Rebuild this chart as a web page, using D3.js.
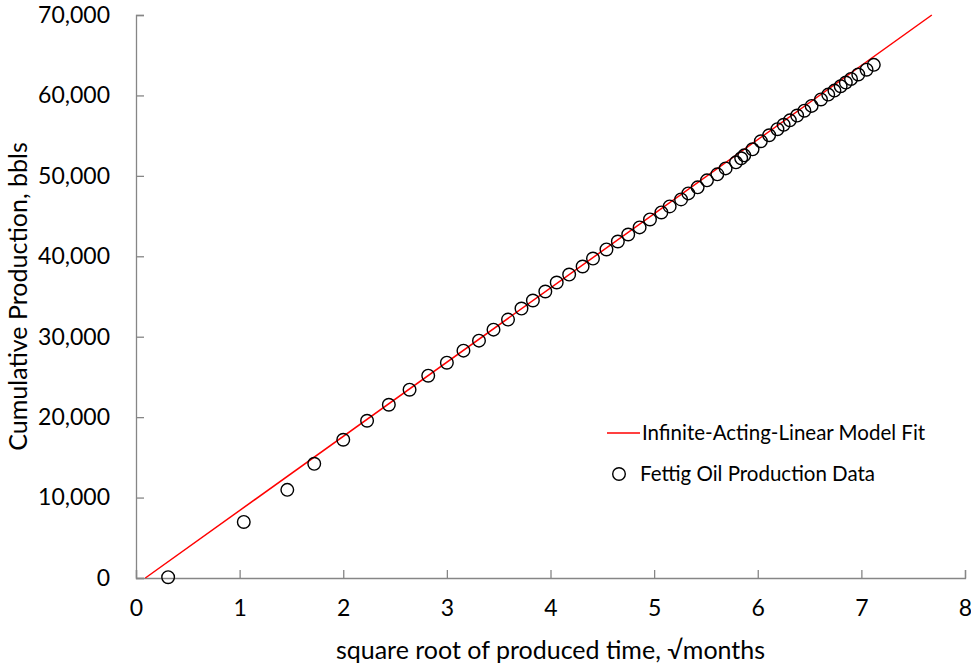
<!DOCTYPE html>
<html>
<head>
<meta charset="utf-8">
<script src="https://cdn.jsdelivr.net/npm/d3@7"></script>
<style>
  body { margin: 0; background: #fff; }
  text { font-family: Lato, "Open Sans", sans-serif; fill: #000; }
</style>
</head>
<body>
<svg width="971" height="664"></svg>
<script>
// sqrt of produced time (sqrt months) and cumulative oil, bbls
const sqrtT = [0.31, 1.04, 1.46, 1.72, 2.0, 2.23, 2.44, 2.64, 2.82, 3.0, 3.16, 3.31, 3.45, 3.59, 3.72,
  3.83, 3.95, 4.06, 4.18, 4.31, 4.41, 4.54, 4.65, 4.75, 4.86, 4.96, 5.07, 5.15, 5.26, 5.33, 5.42,
  5.51, 5.61, 5.69, 5.79, 5.84, 5.87, 5.95, 6.03, 6.11, 6.19, 6.25, 6.31, 6.38, 6.45, 6.52, 6.61,
  6.68, 6.74, 6.80, 6.85, 6.90, 6.97, 7.05, 7.12];
const cumOil = [100, 6970, 10960, 14200, 17190, 19550, 21540, 23410, 25150, 26770, 28270, 29510, 30880, 32130, 33500,
  34500, 35620, 36740, 37730, 38730, 39720, 40850, 41840, 42710, 43590, 44580, 45450, 46200, 47070, 47820, 48570,
  49440, 50190, 50930, 51680, 52180, 52550, 53300, 54300, 55050, 55800, 56350, 56900, 57500, 58100, 58700, 59500,
  60100, 60600, 61150, 61600, 62050, 62600, 63200, 63800];
// model fit line end points
const fitX = [0.09, 7.68];
const fitY = [0, 70000];
const xTicks = [0, 1, 2, 3, 4, 5, 6, 7, 8];
const yTicks = [0, 10000, 20000, 30000, 40000, 50000, 60000, 70000];
const legendLabels = ["Infinite-Acting-Linear Model Fit", "Fettig Oil Production Data"];

var svg = d3.select("svg");
var mLeft = 136, mRight = 965, mTop = 15, mBottom = 578;

var x = d3.scaleLinear().domain([0, 8]).range([mLeft, mRight]);
var y = d3.scaleLinear().domain([0, 70000]).range([mBottom, mTop]);

var axisColor = "#868686";

var gx = svg.append("g").attr("transform", "translate(0," + mBottom + ")")
  .call(d3.axisBottom(x).tickValues(xTicks).tickSize(-8).tickPadding(22).tickFormat(d3.format("d")));
var gy = svg.append("g").attr("transform", "translate(" + mLeft + ",0)")
  .call(d3.axisLeft(y).tickValues(yTicks).tickSize(-8).tickPadding(26).tickFormat(d3.format(",")));
[gx, gy].forEach(function(g) {
  g.select(".domain").attr("stroke", axisColor).attr("stroke-width", 1.3);
  g.selectAll(".tick line").attr("stroke", axisColor).attr("stroke-width", 1.3);
  g.selectAll(".tick text").attr("font-size", 23).style("font-family", "Lato, 'Open Sans', sans-serif");
});
gx.selectAll(".tick text").attr("dy", "0.71em");

// fit line
var line = d3.line().x(function(d) { return x(d[0]); }).y(function(d) { return y(d[1]); });
svg.append("path")
  .datum(fitX.map(function(v, i) { return [v, fitY[i]]; }))
  .attr("d", line)
  .attr("fill", "none")
  .attr("stroke", "#ff0000")
  .attr("stroke-width", 1.5);

// data points
svg.append("g").selectAll("circle")
  .data(sqrtT).enter().append("circle")
  .attr("cx", function(d) { return x(d); })
  .attr("cy", function(d, i) { return y(cumOil[i]); })
  .attr("r", 6.3)
  .attr("fill", "none")
  .attr("stroke", "#000")
  .attr("stroke-width", 1.4);

// axis titles
svg.append("text")
  .attr("x", (mLeft + mRight) / 2 - 0).attr("y", 659)
  .attr("text-anchor", "middle").attr("font-size", 25)
  .text("square root of produced time, \u221Amonths");
svg.append("text")
  .attr("transform", "translate(27," + ((mTop + mBottom) / 2) + ") rotate(-90)")
  .attr("text-anchor", "middle").attr("font-size", 25)
  .text("Cumulative Production, bbls");

// legend
var lg = svg.append("g").attr("transform", "translate(607,433)");
lg.append("line").attr("x1", 0).attr("x2", 33).attr("y1", 0).attr("y2", 0)
  .attr("stroke", "#ff0000").attr("stroke-width", 1.5);
lg.append("circle").attr("cx", 12).attr("cy", 41).attr("r", 6.3)
  .attr("fill", "none").attr("stroke", "#000").attr("stroke-width", 1.4);
lg.selectAll("text.lbl").data(legendLabels).enter().append("text")
  .attr("class", "lbl")
  .attr("x", function(d, i) { return i === 0 ? 35 : 33; })
  .attr("y", function(d, i) { return i * 41; })
  .attr("dy", "0.35em")
  .attr("font-size", 20.5)
  .text(function(d) { return d; });
</script>
</body>
</html>
